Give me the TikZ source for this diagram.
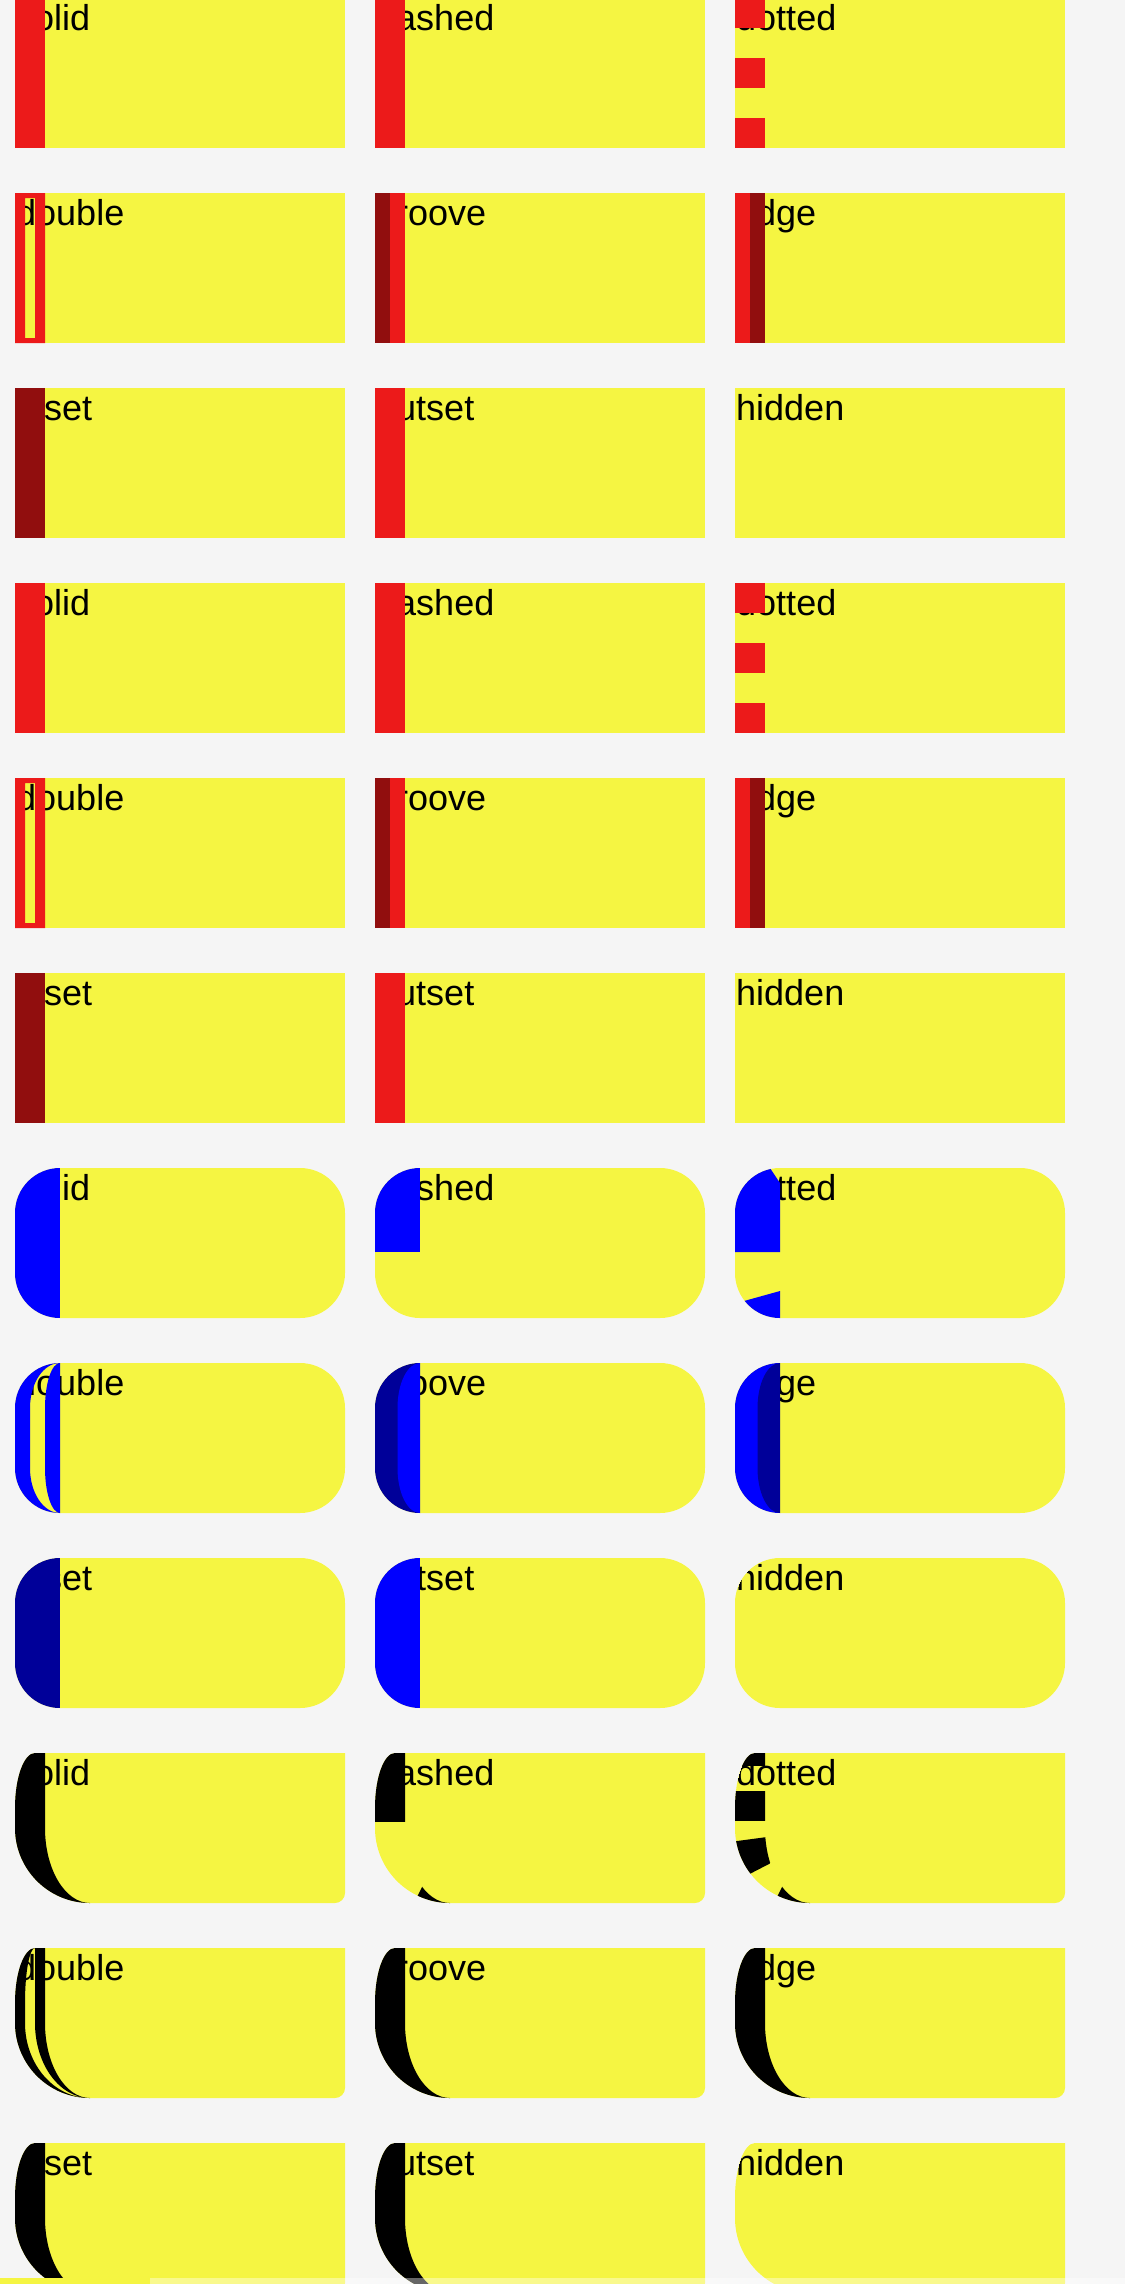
\documentclass[tikz,border=0pt]{standalone}
\usepackage{fontspec}
\setmainfont{Liberation Sans}
\definecolor{pagebg}{RGB}{245,245,245}
\definecolor{boxfill}{RGB}{245,245,66}
\definecolor{bred}{RGB}{236,26,26}
\definecolor{dred}{RGB}{145,14,14}
\definecolor{bblue}{RGB}{0,0,255}
\definecolor{dblue}{RGB}{0,0,153}
\newcommand{\cellshapeC}{(20,0) -- (330,0) -- (330,140) .. controls (330,145.52) and (325.52,150) .. (320,150) -- (75,150) .. controls (33.58,150) and (0,116.42) .. (0,75) -- (0,55) .. controls (0,24.62) and (8.95,0) .. (20,0) -- cycle}
\newcommand{\rimC}{(20,0) -- (30,0) -- (30,75) .. controls (30,116.42) and (50.15,150) .. (75,150) .. controls (33.58,150) and (0,116.42) .. (0,75) -- (0,55) .. controls (0,24.62) and (8.95,0) .. (20,0) -- cycle}

\begin{document}
\begin{tikzpicture}[x=1pt, y=-1pt,
    lbl/.style={anchor=base west, inner sep=0pt, font=\fontsize{36}{40}\selectfont},
    roundB/.style={rounded corners=45pt}]
    \useasboundingbox (0,0) rectangle (1125,2284);
    \clip (0,0) rectangle (1125,2284);
    \fill[pagebg] (0,0) rectangle (1125,2284);
    \foreach \r/\la/\lb/\lc in {0/solid/dashed/dotted,1/double/groove/ridge,2/inset/outset/hidden,3/solid/dashed/dotted,4/double/groove/ridge,5/inset/outset/hidden}
      \foreach \c/\lab in {0/\la,1/\lb,2/\lc} {
        \begin{scope}[shift={(15+360*\c,-2+195*\r)}]
          \fill[boxfill] (0,0) rectangle (330,150);
          \node[lbl] (t\r\c) at (1,32) {\lab};
        \end{scope}
      }
    \foreach \c/\r in {0/0,1/0,1/2,0/3,1/3,1/5}
      \fill[bred] (15+360*\c,-2+195*\r) rectangle ++(30,150);
    \foreach \r in {2,5}
      \fill[dred] (15,-2+195*\r) rectangle ++(30,150);
    \foreach \r in {0,3} \foreach \d in {0,60,120}
      \fill[bred] (735,-2+195*\r+\d) rectangle ++(30,30);
    \foreach \r in {1,4} {
      \fill[bred, even odd rule] (15,-2+195*\r) rectangle ++(30,150) (25,3+195*\r) rectangle ++(10,140);
      \fill[dred] (375,-2+195*\r) rectangle ++(15,150);
      \fill[bred] (390,-2+195*\r) rectangle ++(15,150);
      \fill[bred] (735,-2+195*\r) rectangle ++(15,150);
      \fill[dred] (750,-2+195*\r) rectangle ++(15,150);
    }
    \foreach \r/\la/\lb/\lc in {6/solid/dashed/dotted,7/double/groove/ridge,8/inset/outset/hidden}
      \foreach \c/\lab in {0/\la,1/\lb,2/\lc} {
        \begin{scope}[shift={(15+360*\c,-2+195*\r)}]
          \fill[boxfill, roundB] (0,0) rectangle (330,150);
          \clip[roundB] (0,0) rectangle (330,150);
          \node[lbl] (t\r\c) at (1,32) {\lab};
        \end{scope}
      }
    \foreach \c/\r/\col in {0/6/bblue,0/8/dblue,1/8/bblue,1/7/dblue,2/7/bblue} {
      \begin{scope}[shift={(15+360*\c,-2+195*\r)}]
        \clip[roundB] (0,0) rectangle (330,150);
        \fill[\col] (0,0) rectangle (45,150);
      \end{scope}
    }
    \foreach \c/\col in {1/bblue,2/dblue}
      \fill[\col, shift={(15+360*\c,1363)}] (45,0) .. controls (32.57,0) and (22.5,20.15) .. (22.5,45) -- (22.5,105) .. controls (22.5,129.85) and (32.57,150) .. (45,150) -- cycle;
    \begin{scope}[shift={(375,1168)}]
      \clip[roundB] (0,0) rectangle (330,150);
      \fill[bblue] (0,0) rectangle (45,84);
    \end{scope}
    \begin{scope}[shift={(735,1168)}]
      \clip[roundB] (0,0) rectangle (330,150);
      \fill[bblue] (0,0) -- (35,0) -- (45,15) -- (45,84) -- (0,84) -- cycle;
      \fill[bblue] (0,135.5) -- (45,123) -- (45,155) -- (0,155) -- cycle;
    \end{scope}
    \begin{scope}[shift={(15,1363)}]
      \clip[roundB] (0,0) rectangle (330,150);
      \fill[bblue, even odd rule] (0,0) rectangle (45,150)
        (45,0) .. controls (28.43,0) and (15,20.15) .. (15,45) -- (15,105) .. controls (15,129.85) and (28.43,150) .. (45,150)
        .. controls (36.72,150) and (30,129.85) .. (30,105) -- (30,45) .. controls (30,20.15) and (36.72,0) .. (45,0) -- cycle;
    \end{scope}
    \foreach \r/\la/\lb/\lc in {9/solid/dashed/dotted,10/double/groove/ridge,11/inset/outset/hidden}
      \foreach \c/\lab in {0/\la,1/\lb,2/\lc} {
        \begin{scope}[shift={(15+360*\c,-2+195*\r)}]
          \fill[boxfill] \cellshapeC;
          \clip \cellshapeC;
          \node[lbl] (t\r\c) at (1,32) {\lab};
        \end{scope}
      }
    \foreach \c/\r in {0/9,1/10,2/10,0/11,1/11}
      \fill[black, shift={(15+360*\c,-2+195*\r)}] \rimC;
    \fill[black, even odd rule, shift={(15,1948)}] \rimC
      (20,0) .. controls (14.48,0) and (10,24.62) .. (10,55) -- (10,75) .. controls (10,116.42) and (39.1,150) .. (75,150) .. controls (44.62,150) and (20,116.42) .. (20,75) -- cycle;
    \begin{scope}[shift={(375,1753)}]
      \clip \rimC;
      \fill[black] (-5,-5) rectangle (35,69);
      \fill[black] (36.5,155) -- (54,120) -- (100,120) -- (100,155) -- cycle;
    \end{scope}
    \begin{scope}[shift={(735,1753)}]
      \clip \rimC;
      \fill[black] (-5,-5) rectangle (35,13);
      \fill[black] (-5,38) rectangle (35,68);
      \fill[black] (-10,89.6) -- (50,81.6) -- (50,102.7) -- (-10,133.7) -- cycle;
      \fill[black] (36.5,155) -- (54,120) -- (100,120) -- (100,155) -- cycle;
    \end{scope}
    \fill[white, opacity=.4] (0,2278) rectangle (1125,2284);
    \fill[boxfill] (0,2278) rectangle (150,2284);
\end{tikzpicture}
\end{document}
